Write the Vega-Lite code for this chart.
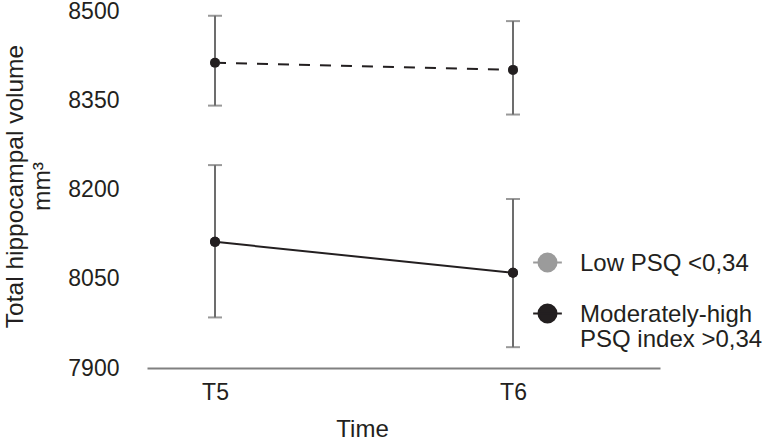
{
  "$schema": "https://vega.github.io/schema/vega-lite/v6.json",
  "width": 513,
  "height": 357,
  "autosize": "none",
  "padding": {"left": 147, "top": 11, "right": 108, "bottom": 71},
  "background": "white",
  "config": {
    "view": {"stroke": null},
    "font": "Liberation Sans",
    "axis": {"grid": false},
    "axisY": {
      "domain": false,
      "ticks": false,
      "format": "d",
      "labelFontSize": 23,
      "labelColor": "#231f20",
      "labelPadding": 28,
      "titleFontSize": 24.5,
      "titleFontWeight": "normal",
      "titleColor": "#231f20",
      "titleAngle": -90,
      "titleX": -125,
      "titleY": 175,
      "titleAlign": "center",
      "titleBaseline": "alphabetic",
      "titleLineHeight": 27
    }
  },
  "data": {
    "values": [
      {"time": 5, "group": "Low PSQ <0,34", "mean": 8413, "lo": 8341, "hi": 8492},
      {"time": 6, "group": "Low PSQ <0,34", "mean": 8401, "lo": 8326, "hi": 8483},
      {"time": 5, "group": "Moderately-high PSQ index >0,34", "mean": 8112, "lo": 7985, "hi": 8241},
      {"time": 6, "group": "Moderately-high PSQ index >0,34", "mean": 8060, "lo": 7935, "hi": 8184}
    ]
  },
  "encoding": {
    "x": {
      "field": "time",
      "type": "quantitative",
      "scale": {"domain": [4.7718, 6.4933], "nice": false, "zero": false},
      "axis": {
        "values": [5, 6],
        "labelExpr": "'T' + datum.value",
        "title": "Time",
        "ticks": false,
        "grid": false,
        "domainColor": "#808080",
        "domainWidth": 2,
        "labelFontSize": 23,
        "labelColor": "#231f20",
        "labelPadding": 13,
        "labelBaseline": "top",
        "titleFontSize": 24,
        "titleFontWeight": "normal",
        "titleColor": "#231f20",
        "titleX": 215,
        "titleY": 49,
        "titleAlign": "center",
        "titleBaseline": "top"
      }
    }
  },
  "layer": [
    {
      "mark": {
        "type": "errorbar",
        "ticks": {"size": 14, "thickness": 2, "color": "#6d6d6d"},
        "rule": {"strokeWidth": 2, "color": "#6d6d6d"}
      },
      "encoding": {
        "y": {
          "field": "lo",
          "type": "quantitative",
          "title": ["Total hippocampal volume", "mm³"],
          "scale": {"domain": [7900, 8500], "nice": false, "zero": false},
          "axis": {"values": [7900, 8050, 8200, 8350, 8500]}
        },
        "y2": {"field": "hi"}
      }
    },
    {
      "transform": [{"filter": "datum.group == 'Low PSQ <0,34'"}],
      "mark": {"type": "line", "color": "#231f20", "strokeWidth": 2, "strokeDash": [11, 10]},
      "encoding": {
        "y": {
          "field": "mean",
          "type": "quantitative",
          "title": ["Total hippocampal volume", "mm³"],
          "scale": {"domain": [7900, 8500], "nice": false, "zero": false}
        }
      }
    },
    {
      "transform": [{"filter": "datum.group != 'Low PSQ <0,34'"}],
      "mark": {"type": "line", "color": "#231f20", "strokeWidth": 2},
      "encoding": {
        "y": {
          "field": "mean",
          "type": "quantitative",
          "title": ["Total hippocampal volume", "mm³"],
          "scale": {"domain": [7900, 8500], "nice": false, "zero": false}
        }
      }
    },
    {
      "mark": {"type": "point", "filled": true, "size": 100, "opacity": 1},
      "encoding": {
        "y": {
          "field": "mean",
          "type": "quantitative",
          "title": ["Total hippocampal volume", "mm³"],
          "scale": {"domain": [7900, 8500], "nice": false, "zero": false}
        },
        "color": {
          "field": "group",
          "type": "nominal",
          "scale": {
            "domain": ["Low PSQ <0,34", "Moderately-high PSQ index >0,34"],
            "range": ["#9b9b9b", "#231f20"]
          },
          "legend": {
            "title": null,
            "orient": "none",
            "legendX": 385,
            "legendY": 236,
            "padding": 0,
            "symbolType": "M-1,0H1M0.63,0A0.63,0.63,0,1,1,-0.63,0A0.63,0.63,0,1,1,0.63,0Z",
            "symbolSize": 824,
            "symbolStrokeWidth": 2,
            "symbolOpacity": 1,
            "labelFontSize": 24,
            "labelColor": "#231f20",
            "labelOffset": 17,
            "labelBaseline": "alphabetic",
            "labelLimit": 300,
            "rowPadding": 22,
            "labelExpr": "datum.label == 'Moderately-high PSQ index >0,34' ? ['Moderately-high', 'PSQ index >0,34'] : datum.label",
            "encode": {
              "symbols": {"update": {"stroke": {"scale": "color", "field": "value"}}},
              "labels": {"update": {"dy": {"value": 8}, "lineHeight": {"value": 25}}}
            }
          }
        }
      }
    },
    {
      "mark": {"type": "point", "filled": true, "size": 100, "opacity": 1, "color": "#231f20"},
      "encoding": {
        "y": {
          "field": "mean",
          "type": "quantitative",
          "title": ["Total hippocampal volume", "mm³"],
          "scale": {"domain": [7900, 8500], "nice": false, "zero": false}
        }
      }
    }
  ]
}
